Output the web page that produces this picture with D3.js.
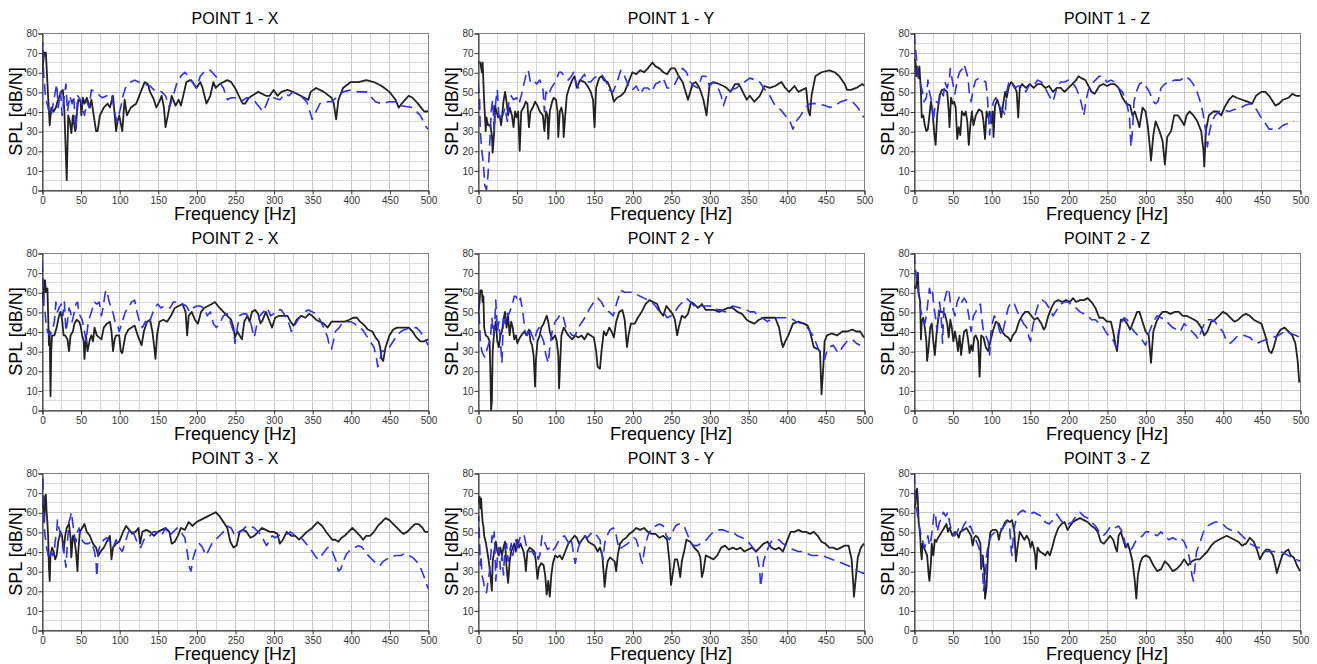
<!DOCTYPE html>
<html><head><meta charset="utf-8">
<script src="https://cdn.jsdelivr.net/npm/d3@7"></script>
<style>
html,body{margin:0;padding:0;background:#fff;}
svg{display:block;font-family:"Liberation Sans",Arial,sans-serif;}
</style></head>
<body><svg id="c" width="1317" height="664"></svg>
<script>
// ---------- DATA ----------
const panelTitles = ["POINT 1 - X","POINT 1 - Y","POINT 1 - Z","POINT 2 - X","POINT 2 - Y","POINT 2 - Z","POINT 3 - X","POINT 3 - Y","POINT 3 - Z"];
const xTicks = [0,50,100,150,200,250,300,350,400,450,500];
const yTicks = [0,10,20,30,40,50,60,70,80];
const xLabel = "Frequency [Hz]";
const yLabel = "SPL [dB/N]";

// solid (black) series, [frequency Hz, SPL dB/N]
const p1x_solid = [[0,60],[3,70],[5,70],[8,47],[10,33],[12,42],[15,40],[18,42],[20,45],[25,50],[27,51],[29,40],[32,5],[34,38],[36,35],[38,29],[40,38],[43,30],[47,46],[50,45],[51,38],[53,47],[55,44],[58,47],[62,42],[64,46],[67,38],[70,30],[72,30],[75,38],[80,42],[85,44],[88,42],[92,48],[96,30],[98,35],[100,38],[104,30],[107,46],[110,38],[115,42],[122,44],[128,50],[133,55],[137,54],[140,50],[145,46],[148,42],[152,45],[155,48],[158,42],[160,32],[163,38],[168,48],[173,43],[177,46],[180,43],[187,55],[192,56],[195,55],[200,52],[205,55],[208,52],[213,44],[218,48],[222,55],[225,52],[230,54],[240,56],[245,55],[250,52],[255,48],[260,44],[263,44],[268,47],[272,48],[280,50],[290,48],[295,48],[300,51],[305,48],[310,50],[318,51],[325,50],[335,48],[345,46],[348,50],[355,52],[365,50],[375,47],[378,44],[381,36],[384,46],[390,52],[400,55],[410,55],[420,56],[430,55],[440,53],[450,50],[458,46],[462,42],[468,45],[475,48],[480,47],[487,44],[495,40],[500,40]];
const p1x_dash = [[0,70],[1,75],[2,60],[4,50],[6,45],[9,40],[12,38],[15,45],[19,54],[21,42],[24,50],[26,38],[28,45],[31,54],[33,40],[36,48],[39,44],[41,48],[44,30],[46,48],[50,46],[55,38],[58,45],[61,42],[64,51],[70,50],[75,48],[78,47],[84,48],[90,49],[95,38],[97,35],[102,42],[105,48],[108,52],[115,55],[120,56],[125,55],[132,54],[140,53],[145,51],[150,51],[155,50],[160,48],[165,42],[170,48],[175,55],[180,58],[185,60],[190,58],[195,55],[200,52],[205,58],[212,61],[218,61],[225,58],[230,55],[235,52],[240,46],[245,47],[252,47],[258,45],[265,47],[272,47],[278,44],[282,42],[286,40],[290,43],[295,48],[300,47],[308,46],[315,49],[320,48],[325,50],[335,48],[343,45],[350,36],[355,40],[360,44],[365,45],[375,45],[390,50],[400,51],[410,50],[420,50],[425,48],[432,45],[440,44],[450,45],[458,45],[465,43],[480,42],[490,38],[498,32],[500,31]];

const p1y_solid = [[0,65],[3,65],[5,60],[6,65],[8,45],[10,30],[11,37],[13,33],[16,33],[18,28],[19,19],[21,30],[22,43],[24,40],[26,37],[28,38],[30,33],[33,45],[35,50],[37,45],[39,38],[41,42],[44,38],[46,32],[48,40],[50,37],[52,40],[54,20],[56,40],[59,42],[62,45],[64,44],[66,32],[68,40],[71,42],[74,45],[77,43],[80,40],[84,38],[86,30],[88,40],[90,38],[91,26],[93,40],[96,45],[98,47],[101,46],[103,40],[104,27],[106,40],[108,42],[110,38],[111,27],[113,38],[115,48],[118,52],[122,56],[125,58],[128,52],[132,56],[138,55],[142,53],[146,50],[149,46],[151,32],[153,52],[157,57],[160,58],[163,56],[168,55],[173,50],[176,45],[180,47],[185,48],[190,50],[195,55],[200,60],[205,59],[210,61],[215,60],[220,62],[226,65],[230,63],[235,62],[240,60],[245,59],[250,62],[255,62],[260,58],[265,55],[272,46],[275,50],[278,54],[282,55],[287,52],[292,46],[296,38],[300,54],[305,55],[312,54],[318,53],[322,52],[327,50],[333,54],[338,54],[343,50],[348,46],[352,48],[358,45],[365,48],[371,53],[378,52],[385,53],[393,55],[398,52],[403,50],[410,53],[415,50],[420,51],[425,52],[428,40],[430,38],[432,48],[437,58],[445,60],[455,61],[462,60],[468,58],[475,54],[478,51],[483,51],[490,52],[498,54],[500,53]];
const p1y_dash = [[0,55],[2,47],[3,30],[5,20],[7,13],[9,2],[11,0],[13,8],[14,15],[16,30],[17,40],[19,46],[21,30],[23,45],[25,51],[27,38],[29,35],[32,38],[35,42],[38,35],[40,45],[43,48],[46,46],[50,47],[53,44],[56,48],[60,55],[63,60],[65,61],[68,55],[72,56],[76,54],[80,56],[84,52],[86,40],[88,50],[91,48],[95,52],[100,55],[105,60],[108,60],[112,58],[117,56],[121,58],[124,60],[127,55],[130,52],[134,57],[138,59],[142,55],[146,55],[150,57],[155,58],[160,59],[165,56],[170,51],[175,50],[180,55],[185,61],[188,60],[192,56],[196,52],[200,51],[205,53],[210,49],[215,52],[220,52],[225,50],[230,54],[235,55],[240,57],[245,52],[250,52],[255,54],[260,58],[265,62],[270,60],[275,55],[280,53],[285,52],[290,58],[295,58],[300,53],[305,55],[310,53],[315,48],[318,43],[322,48],[328,51],[335,52],[340,54],[345,55],[352,57],[360,56],[365,55],[370,52],[378,48],[385,43],[392,41],[398,38],[404,35],[408,31],[412,35],[418,38],[424,42],[430,44],[440,44],[450,43],[456,42],[462,43],[470,45],[478,46],[485,45],[492,42],[498,38],[500,37]];

const p1z_solid = [[0,67],[2,65],[3,58],[4,63],[6,57],[7,63],[9,50],[10,37],[12,38],[14,33],[16,30],[18,31],[20,38],[22,45],[24,40],[26,30],[28,23],[30,38],[33,48],[36,51],[40,51],[43,50],[45,40],[46,32],[48,47],[50,44],[52,45],[54,42],[56,26],[58,32],[60,28],[62,40],[65,38],[67,40],[69,35],[71,23],[73,33],[75,40],[77,33],[80,38],[84,41],[88,40],[90,35],[92,26],[94,40],[96,37],[98,40],[100,34],[102,40],[103,27],[105,43],[108,46],[111,42],[113,37],[116,45],[118,50],[120,47],[123,53],[126,55],[130,53],[133,50],[135,37],[137,52],[140,54],[145,52],[150,54],[155,52],[160,54],[165,54],[170,52],[175,53],[180,50],[185,52],[190,52],[195,50],[200,52],[205,54],[210,56],[213,58],[217,57],[222,56],[226,53],[230,50],[234,49],[240,53],[245,54],[250,53],[255,54],[260,54],[265,52],[270,47],[275,44],[280,43],[283,38],[286,40],[290,35],[292,32],[296,42],[300,40],[303,32],[306,20],[307,15],[310,28],[313,35],[318,30],[322,25],[325,13],[328,27],[333,30],[337,38],[342,38],[347,35],[350,33],[353,38],[357,40],[362,38],[367,35],[372,30],[375,20],[376,12],[378,30],[382,38],[388,40],[393,40],[398,38],[402,42],[408,46],[413,48],[418,47],[425,46],[432,45],[438,44],[443,48],[450,50],[455,50],[460,48],[465,45],[468,43],[473,44],[478,46],[485,47],[490,49],[495,48],[500,48]];
const p1z_dash = [[0,80],[1,75],[3,68],[5,58],[8,55],[11,50],[13,45],[16,47],[18,56],[20,50],[23,45],[25,35],[27,42],[29,45],[32,44],[35,50],[38,48],[40,55],[43,52],[46,57],[47,62],[50,55],[53,49],[56,56],[59,60],[63,62],[65,64],[68,60],[70,57],[72,48],[74,45],[77,52],[80,56],[84,57],[88,56],[93,55],[95,48],[97,35],[98,28],[100,40],[103,45],[106,47],[108,45],[112,42],[116,40],[118,38],[120,50],[123,55],[126,55],[130,52],[135,53],[140,53],[145,50],[150,54],[155,53],[160,56],[165,55],[170,52],[175,48],[180,45],[185,52],[190,55],[195,55],[200,56],[205,55],[210,52],[215,47],[218,42],[220,38],[223,46],[226,51],[230,54],[235,56],[240,58],[245,58],[250,55],[255,56],[260,55],[265,52],[270,50],[275,45],[279,38],[281,22],[283,30],[285,45],[288,50],[292,54],[296,55],[300,53],[305,50],[310,45],[313,44],[316,45],[320,52],[325,54],[330,55],[338,56],[345,56],[352,58],[358,56],[365,52],[370,46],[374,40],[378,30],[380,22],[382,28],[385,34],[390,38],[395,40],[400,41],[408,40],[415,41],[420,41],[428,43],[435,44],[442,42],[448,38],[455,34],[460,31],[465,31],[472,31],[478,33],[485,34],[492,35]];

const p2x_solid = [[0,60],[2,55],[3,66],[4,66],[5,60],[7,62],[8,48],[9,33],[10,40],[11,7],[12,30],[13,38],[16,38],[19,42],[22,48],[24,50],[26,46],[28,38],[30,38],[33,36],[35,30],[37,38],[40,40],[42,44],[45,46],[48,45],[50,43],[52,38],[54,35],[55,26],[57,38],[59,30],[62,36],[64,38],[66,35],[68,42],[71,38],[74,37],[77,36],[80,42],[84,44],[88,45],[90,40],[92,30],[94,36],[96,38],[100,38],[102,30],[104,29],[108,38],[112,41],[116,42],[120,43],[124,38],[127,35],[129,33],[132,40],[136,45],[140,46],[143,40],[146,30],[147,26],[149,38],[152,45],[157,46],[162,45],[167,48],[172,52],[177,53],[182,54],[186,50],[188,38],[190,48],[194,50],[198,46],[202,44],[206,50],[210,52],[215,53],[220,54],[224,55],[230,52],[235,50],[240,48],[245,46],[248,42],[250,37],[253,40],[256,38],[259,36],[262,45],[266,48],[269,45],[272,50],[276,51],[280,49],[283,44],[286,46],[290,50],[294,46],[298,42],[302,47],[307,48],[312,48],[318,48],[322,45],[326,43],[330,46],[336,48],[341,47],[346,49],[350,48],[355,46],[360,45],[365,44],[370,42],[375,45],[385,45],[392,45],[398,46],[403,47],[408,47],[412,45],[418,43],[422,41],[428,40],[432,37],[436,35],[438,32],[440,26],[442,25],[445,32],[450,38],[455,41],[460,42],[468,42],[475,42],[480,40],[485,37],[490,35],[495,35],[500,36]];
const p2x_dash = [[0,76],[1,70],[2,55],[4,50],[5,45],[7,40],[10,38],[13,40],[16,45],[18,55],[20,50],[22,52],[25,54],[27,48],[29,55],[31,40],[33,45],[35,52],[37,50],[39,45],[42,50],[44,54],[46,55],[48,49],[52,46],[55,40],[57,35],[60,45],[64,50],[68,55],[71,54],[74,55],[77,48],[79,52],[82,60],[84,61],[87,55],[90,52],[93,48],[95,44],[98,43],[100,40],[104,45],[108,50],[112,52],[116,55],[120,56],[123,50],[127,44],[130,42],[134,45],[138,43],[142,48],[146,52],[150,54],[154,52],[158,53],[162,52],[166,52],[170,55],[174,55],[178,55],[182,54],[187,53],[191,50],[196,52],[200,53],[205,53],[210,52],[214,48],[218,50],[222,44],[226,42],[230,44],[235,48],[240,49],[244,45],[248,40],[250,34],[253,42],[256,48],[260,49],[265,49],[270,45],[273,40],[275,37],[278,43],[282,48],[287,50],[292,52],[296,48],[300,49],[305,51],[310,51],[315,48],[320,44],[323,40],[326,42],[330,45],[335,48],[340,50],[345,51],[350,50],[355,49],[360,46],[365,42],[370,37],[372,33],[375,31],[378,36],[380,40],[385,42],[390,45],[395,45],[400,45],[405,44],[410,42],[415,41],[420,38],[425,35],[430,32],[433,27],[435,22],[438,26],[440,30],[445,30],[450,32],[455,35],[460,38],[465,40],[470,41],[478,42],[485,42],[490,40],[495,37],[500,33]];

const p2y_solid = [[0,48],[2,55],[3,61],[5,61],[6,55],[7,58],[8,42],[10,38],[13,37],[15,35],[16,20],[17,0],[18,5],[19,30],[21,40],[23,45],[25,35],[27,32],[29,38],[31,40],[33,46],[35,50],[37,42],[39,48],[41,38],[43,45],[45,42],[47,36],[49,38],[51,34],[53,36],[56,38],[60,40],[63,38],[66,41],[68,35],[70,33],[72,28],[73,20],[74,12],[75,25],[77,35],[80,38],[82,42],[85,44],[87,46],[89,48],[91,45],[93,40],[96,36],[98,37],[100,38],[102,35],[104,28],[105,11],[106,20],[108,38],[111,42],[114,40],[117,38],[122,36],[126,38],[130,37],[134,38],[138,36],[142,39],[146,38],[150,37],[153,30],[155,22],[158,21],[160,30],[163,40],[166,38],[170,42],[173,40],[176,37],[179,45],[183,50],[187,51],[190,46],[193,32],[195,38],[198,44],[203,44],[207,47],[212,50],[217,54],[222,56],[227,55],[232,54],[236,50],[240,48],[244,53],[248,51],[252,49],[255,46],[258,38],[260,42],[264,48],[268,47],[272,49],[276,55],[280,54],[285,52],[290,54],[295,51],[300,51],[306,51],[312,50],[318,51],[324,52],[330,52],[336,50],[342,49],[348,46],[352,45],[358,44],[364,46],[370,47],[378,47],[385,47],[390,42],[393,35],[395,32],[398,35],[402,38],[408,44],[415,45],[422,44],[427,43],[430,40],[435,32],[440,31],[443,30],[445,8],[447,20],[449,35],[452,38],[458,39],[465,38],[472,40],[478,40],[485,41],[490,40],[495,40],[500,37]];
const p2y_dash = [[0,58],[1,50],[2,44],[3,35],[5,30],[7,28],[9,27],[11,30],[14,34],[16,36],[18,47],[20,38],[22,46],[23,56],[25,40],[27,45],[29,35],[31,24],[33,48],[35,44],[37,50],[39,48],[41,50],[44,53],[47,58],[49,58],[52,55],[55,57],[58,50],[61,40],[64,38],[66,42],[68,40],[70,38],[73,35],[76,40],[79,42],[82,38],[85,35],[88,28],[91,24],[93,32],[96,40],[100,45],[104,47],[107,49],[110,48],[114,42],[118,40],[122,38],[126,38],[130,42],[135,45],[140,48],[145,52],[150,55],[155,57],[160,55],[165,51],[170,50],[175,48],[180,55],[185,61],[190,60],[195,60],[200,60],[205,59],[210,58],[215,57],[220,56],[225,55],[230,53],[235,50],[240,50],[245,47],[250,48],[255,50],[260,53],[265,55],[270,57],[275,55],[280,53],[285,53],[290,53],[295,53],[300,53],[305,53],[310,51],[315,51],[320,50],[325,52],[330,53],[340,52],[348,51],[352,50],[358,50],[363,48],[368,47],[375,45],[382,47],[388,47],[395,47],[400,47],[405,47],[412,45],[420,44],[425,43],[430,40],[434,38],[438,34],[442,30],[446,28],[449,26],[452,30],[455,32],[460,33],[465,30],[468,29],[472,32],[478,35],[485,36],[490,34],[495,33]];

const p2z_solid = [[0,63],[2,62],[3,63],[5,70],[6,60],[8,55],[9,36],[10,45],[12,47],[14,42],[16,35],[17,25],[19,32],[21,42],[23,44],[25,35],[27,28],[29,38],[31,45],[33,50],[36,50],[40,49],[43,44],[45,37],[47,46],[49,42],[51,35],[53,40],[55,36],[57,30],[59,38],[61,28],[63,35],[65,40],[68,41],[70,36],[72,29],[74,33],[76,30],[78,37],[80,38],[83,35],[85,17],[87,38],[90,37],[93,32],[96,30],[99,35],[102,40],[106,45],[110,44],[114,40],[118,38],[122,37],[125,35],[128,38],[132,40],[136,45],[140,48],[144,50],[148,50],[152,48],[156,46],[160,47],[165,44],[168,41],[170,42],[174,48],[178,52],[182,55],[187,56],[192,55],[197,56],[202,55],[206,57],[210,55],[215,56],[220,56],[225,57],[230,55],[235,52],[240,47],[245,47],[250,45],[255,45],[258,40],[261,33],[263,30],[265,38],[268,46],[272,46],[276,44],[280,41],[285,46],[289,50],[292,50],[296,45],[300,40],[304,38],[307,24],[310,40],[314,45],[318,48],[322,50],[327,50],[332,49],[338,50],[343,50],[348,48],[353,48],[358,47],[363,46],[367,45],[372,42],[376,38],[380,40],[385,45],[390,46],[395,48],[400,50],[405,49],[410,47],[415,45],[420,46],[425,48],[430,49],[435,48],[440,46],[445,45],[450,44],[455,38],[460,30],[463,29],[466,32],[470,38],[475,41],[480,42],[485,40],[490,38],[494,34],[497,25],[499,14]];
const p2z_dash = [[0,80],[1,75],[3,68],[5,62],[7,55],[9,50],[12,47],[14,44],[16,48],[18,55],[20,62],[22,58],[24,60],[26,52],[28,47],[30,40],[33,55],[35,49],[37,34],[39,55],[42,60],[45,62],[47,55],[50,52],[53,48],[56,55],[59,58],[62,55],[65,57],[68,55],[71,48],[74,40],[77,48],[80,50],[83,53],[86,54],[88,46],[90,40],[93,38],[96,35],[98,28],[100,42],[104,48],[108,45],[111,40],[114,38],[118,45],[122,52],[126,55],[130,54],[134,50],[138,47],[142,44],[146,42],[149,37],[151,35],[154,43],[158,50],[162,55],[166,56],[170,55],[175,52],[180,48],[185,51],[190,54],[195,55],[200,55],[205,53],[210,52],[215,50],[220,49],[225,48],[230,46],[235,46],[240,44],[244,43],[248,40],[252,38],[256,37],[260,34],[262,32],[265,40],[268,44],[272,47],[276,46],[280,43],[285,40],[290,38],[295,36],[300,33],[305,40],[310,45],[315,48],[320,47],[325,46],[330,44],[335,42],[340,41],[345,40],[350,44],[355,42],[360,40],[365,38],[368,36],[372,40],[376,44],[380,46],[385,46],[390,45],[395,42],[400,40],[405,35],[410,34],[415,36],[420,38],[428,38],[435,37],[440,35],[445,34],[450,35],[458,36],[465,37],[472,38],[480,40],[488,39],[495,38],[500,37]];

const p3x_solid = [[0,62],[2,65],[3,55],[4,68],[5,69],[6,60],[7,55],[8,47],[9,32],[10,25],[11,38],[13,42],[15,40],[17,36],[19,38],[21,45],[24,50],[26,48],[28,40],[30,48],[32,52],[35,54],[37,47],[38,37],[40,48],[42,46],[44,40],[46,30],[47,40],[49,50],[52,52],[55,54],[58,50],[62,48],[66,44],[70,42],[73,38],[76,40],[80,42],[84,45],[88,48],[90,36],[92,42],[96,44],[100,45],[105,50],[109,53],[113,51],[117,49],[121,50],[125,52],[127,44],[130,50],[135,51],[140,50],[145,48],[150,50],[155,51],[160,52],[165,50],[168,44],[172,45],[176,48],[180,52],[185,51],[190,55],[195,53],[200,55],[205,56],[210,57],[215,58],[220,59],[225,60],[230,58],[235,55],[240,52],[244,45],[248,42],[252,43],[256,50],[260,51],[265,50],[270,47],[275,48],[280,50],[285,52],[290,51],[295,50],[300,50],[305,49],[308,44],[312,46],[317,50],[323,48],[328,48],[333,46],[338,48],[343,50],[350,52],[357,55],[363,53],[368,50],[372,48],[376,46],[380,46],[384,45],[388,47],[392,48],[397,50],[402,52],[407,50],[412,48],[416,46],[420,48],[425,48],[430,50],[435,53],[440,55],[445,57],[450,56],[455,54],[460,52],[465,50],[468,49],[473,50],[478,52],[483,54],[488,54],[493,52],[496,50],[500,50]];
const p3x_dash = [[0,70],[1,78],[2,65],[3,52],[4,48],[6,42],[8,38],[10,36],[12,40],[14,38],[16,40],[17,45],[19,50],[20,56],[22,52],[24,49],[27,44],[29,38],[31,32],[33,45],[35,55],[37,58],[38,60],[40,54],[42,48],[44,45],[46,50],[48,52],[50,48],[53,45],[56,44],[60,44],[64,45],[68,40],[70,35],[71,27],[73,40],[76,44],[80,46],[84,47],[88,45],[92,42],[96,46],[100,42],[104,40],[108,45],[112,50],[116,52],[120,48],[124,44],[128,42],[132,46],[136,48],[140,48],[144,50],[148,50],[152,48],[156,49],[160,52],[165,48],[170,50],[175,52],[180,50],[185,47],[188,40],[191,32],[193,30],[196,37],[200,42],[204,44],[208,42],[212,38],[215,40],[220,44],[225,46],[230,48],[235,50],[240,53],[245,52],[250,48],[255,50],[260,51],[265,53],[270,53],[275,52],[280,50],[285,48],[288,45],[291,43],[294,45],[298,48],[302,47],[306,48],[312,49],[318,49],[322,50],[328,48],[333,48],[338,46],[344,43],[350,40],[355,37],[358,36],[362,38],[366,40],[370,42],[374,42],[378,38],[381,35],[384,30],[387,31],[390,35],[395,39],[400,41],[405,42],[410,43],[415,42],[420,39],[425,37],[430,35],[434,33],[438,33],[442,35],[446,36],[452,37],[458,38],[465,38],[470,39],[475,38],[480,37],[485,35],[490,32],[494,28],[497,25],[500,21]];

const p3y_solid = [[0,65],[2,68],[3,62],[4,67],[5,60],[6,55],[7,53],[8,48],[10,45],[12,40],[14,35],[16,28],[18,20],[19,35],[21,40],[23,45],[25,40],[27,38],[29,42],[31,38],[33,42],[35,45],[37,32],[39,24],[41,35],[43,40],[45,42],[47,44],[49,40],[51,46],[53,42],[55,44],[57,42],[59,40],[61,35],[62,30],[64,40],[67,42],[70,41],[73,40],[75,35],[77,26],[79,32],[82,34],[85,33],[87,28],[89,18],[91,25],[93,17],[95,28],[97,34],[100,38],[103,37],[106,38],[109,36],[113,40],[117,44],[121,46],[125,48],[128,47],[131,44],[135,46],[139,48],[143,45],[147,44],[151,43],[155,40],[158,42],[161,38],[163,28],[164,22],[166,30],[168,35],[171,37],[174,36],[177,35],[179,30],[181,38],[184,44],[188,46],[192,47],[196,49],[200,50],[205,52],[210,51],[215,52],[220,50],[225,49],[230,49],[235,47],[240,48],[245,46],[248,35],[250,23],[252,28],[255,36],[258,36],[260,32],[262,27],[264,35],[267,40],[270,46],[275,45],[280,42],[285,40],[288,37],[290,27],[292,30],[295,38],[300,37],[305,36],[310,38],[315,42],[320,43],[325,41],[330,42],[335,41],[340,42],[345,40],[350,41],[355,42],[360,40],[365,42],[370,44],[375,45],[380,42],[385,41],[390,42],[395,40],[400,45],[405,50],[410,50],[415,51],[420,50],[425,50],[430,49],[435,50],[440,48],[445,45],[450,44],[455,42],[460,42],[465,41],[470,42],[475,43],[480,43],[484,36],[486,24],[487,17],[489,25],[492,37],[496,42],[500,44]];
const p3y_dash = [[0,55],[1,58],[2,45],[3,33],[4,38],[5,28],[7,25],[9,20],[11,19],[13,25],[15,30],[17,40],[18,48],[20,45],[21,50],[22,40],[23,25],[25,36],[27,42],[29,31],[31,38],[33,28],[35,42],[37,44],[39,35],[41,40],[43,44],[45,38],[47,42],[49,46],[51,40],[53,45],[55,48],[57,49],[60,48],[63,42],[66,40],[70,40],[73,38],[76,40],[78,36],[80,38],[83,48],[86,45],[90,41],[93,42],[96,40],[100,42],[104,45],[108,47],[112,48],[115,46],[118,44],[121,46],[124,38],[126,34],[128,38],[130,42],[134,46],[138,48],[142,47],[146,49],[150,50],[154,48],[158,46],[160,40],[162,36],[164,44],[167,48],[171,51],[175,52],[178,51],[180,46],[183,41],[186,42],[190,43],[194,44],[198,46],[202,47],[205,46],[208,42],[211,36],[213,34],[216,42],[220,48],[225,52],[230,53],[235,54],[240,53],[244,48],[248,46],[252,50],[256,53],[260,54],[264,54],[268,52],[272,48],[276,44],[280,43],[284,43],[288,44],[292,45],[296,46],[300,48],[305,50],[312,51],[318,51],[324,50],[330,50],[336,48],[342,47],[348,46],[352,44],[356,42],[360,40],[362,37],[365,30],[366,22],[368,28],[370,35],[374,40],[378,44],[382,46],[386,46],[390,46],[395,44],[400,43],[408,41],[415,40],[420,40],[426,39],[432,38],[438,38],[445,38],[452,37],[458,36],[465,35],[472,34],[478,33],[485,32],[492,30],[498,29],[500,29]];

const p3z_solid = [[0,62],[2,64],[3,70],[4,72],[5,66],[6,55],[7,52],[8,48],[9,40],[10,36],[11,44],[13,42],[15,40],[17,38],[19,28],[20,25],[22,35],[23,44],[25,38],[27,46],[29,45],[31,47],[33,48],[36,50],[39,52],[42,54],[44,50],[46,52],[48,50],[50,48],[53,50],[56,49],[58,47],[60,50],[64,51],[68,52],[71,50],[74,48],[76,43],[78,47],[80,48],[83,47],[86,44],[87,31],[89,38],[91,30],[92,16],[94,22],[96,40],[99,50],[102,51],[106,51],[108,50],[110,46],[112,50],[115,52],[118,55],[121,56],[124,55],[127,56],[130,50],[132,35],[134,42],[137,50],[140,48],[143,46],[146,48],[149,46],[151,42],[153,45],[155,42],[157,38],[158,31],[160,42],[163,40],[167,39],[170,38],[173,40],[176,38],[179,42],[183,48],[187,52],[191,54],[195,55],[199,51],[202,53],[206,55],[210,56],[215,57],[220,56],[225,55],[230,53],[234,52],[238,50],[242,45],[246,44],[250,46],[254,48],[258,46],[261,42],[263,40],[265,48],[268,50],[271,46],[274,42],[277,44],[280,40],[283,35],[286,25],[288,16],[290,28],[293,34],[296,37],[300,38],[305,37],[310,33],[315,30],[320,31],[325,35],[330,33],[335,30],[340,31],[345,33],[350,36],[355,33],[360,35],[365,36],[370,36],[375,38],[380,40],[385,43],[390,45],[395,46],[400,47],[405,48],[410,47],[415,46],[420,45],[425,43],[430,44],[435,47],[440,45],[445,40],[448,36],[452,39],[456,41],[460,41],[465,38],[468,33],[470,29],[473,33],[477,38],[481,40],[485,41],[488,38],[492,37],[496,33],[500,30]];
const p3z_dash = [[0,80],[1,74],[2,66],[4,60],[6,55],[8,50],[10,48],[12,44],[14,42],[16,45],[18,48],[20,43],[22,46],[24,52],[26,60],[28,58],[30,50],[33,55],[36,57],[38,60],[41,58],[44,60],[46,55],[49,50],[52,48],[55,49],[58,52],[61,50],[64,53],[67,55],[70,52],[73,53],[76,50],[80,46],[84,42],[87,38],[89,30],[90,20],[92,25],[94,38],[97,45],[100,48],[105,50],[110,51],[115,52],[120,55],[124,52],[126,40],[127,38],[129,50],[133,58],[137,60],[141,61],[145,60],[150,59],[155,60],[160,59],[165,58],[170,55],[175,54],[180,56],[185,59],[190,56],[195,54],[200,54],[205,55],[210,58],[215,60],[220,58],[225,57],[230,55],[235,53],[240,50],[245,48],[250,50],[255,53],[260,52],[265,53],[270,50],[273,45],[276,42],[279,40],[283,42],[288,46],[292,47],[296,48],[300,50],[305,50],[310,49],[315,48],[320,50],[325,48],[330,46],[335,47],[340,46],[345,47],[350,45],[355,40],[358,34],[360,28],[362,25],[364,32],[366,40],[370,44],[375,50],[380,53],[385,54],[390,55],[395,55],[400,54],[405,52],[410,51],[415,50],[420,50],[425,48],[430,46],[435,44],[440,43],[445,42],[450,42],[455,40],[460,40],[465,40],[470,40],[475,40],[480,39],[485,38],[490,37],[495,36],[500,35]];

const solidSeries = [p1x_solid,p1y_solid,p1z_solid,p2x_solid,p2y_solid,p2z_solid,p3x_solid,p3y_solid,p3z_solid];
const dashSeries  = [p1x_dash,p1y_dash,p1z_dash,p2x_dash,p2y_dash,p2z_dash,p3x_dash,p3y_dash,p3z_dash];

// ---------- LAYOUT ----------
const colLeft = [42, 478, 914];
const rowTop = [33, 253, 473];
const PW = 386, PH = 157;

const svg = d3.select("#c");
const defs = svg.append("defs");

panelTitles.forEach((title, i) => {
  const col = i % 3, row = Math.floor(i / 3);
  const L = colLeft[col], T = rowTop[row];
  const x = d3.scaleLinear().domain([0, 500]).range([0, PW]);
  const y = d3.scaleLinear().domain([0, 80]).range([PH, 0]);
  const g = svg.append("g").attr("transform", `translate(${L},${T})`);

  // grid
  const gx = d3.range(0, 501, 25), gy = d3.range(0, 81, 5);
  g.append("g").selectAll("line").data(gx).join("line")
    .attr("x1", d => Math.round(x(d)) + 0.5).attr("x2", d => Math.round(x(d)) + 0.5)
    .attr("y1", 0).attr("y2", PH)
    .attr("stroke", d => d % 50 === 0 ? "#c8c8c8" : "#d8d8d8").attr("stroke-width", 1);
  g.append("g").selectAll("line").data(gy).join("line")
    .attr("y1", d => Math.round(y(d)) + 0.5).attr("y2", d => Math.round(y(d)) + 0.5)
    .attr("x1", 0).attr("x2", PW)
    .attr("stroke", d => d % 10 === 0 ? "#c8c8c8" : "#dcdcdc").attr("stroke-width", 1);

  // frame
  g.append("rect").attr("x", 0.5).attr("y", 0.5).attr("width", PW).attr("height", PH)
    .attr("fill", "none").attr("stroke", "#808080").attr("stroke-width", 1);

  // clip
  defs.append("clipPath").attr("id", "clip" + i)
    .append("rect").attr("x", 0).attr("y", 0).attr("width", PW + 1).attr("height", PH + 1);

  const line = d3.line().x(d => x(d[0])).y(d => y(d[1]));
  const lines = g.append("g").attr("clip-path", `url(#clip${i})`);
  lines.append("path").datum(solidSeries[i]).attr("d", line)
    .attr("fill", "none").attr("stroke", "#222222").attr("stroke-width", 1.8)
    .attr("stroke-linejoin", "round");
  lines.append("path").datum(dashSeries[i]).attr("d", line)
    .attr("fill", "none").attr("stroke", "#2f2fff").attr("stroke-width", 1.6)
    .attr("stroke-dasharray", "11,6").attr("stroke-linejoin", "round");

  // axes
  const ax = g.append("g").attr("transform", `translate(0.5,${PH + 0.5})`)
    .call(d3.axisBottom(x).tickValues(xTicks).tickSize(4).tickPadding(2));
  const ay = g.append("g").attr("transform", `translate(0.5,0.5)`)
    .call(d3.axisLeft(y).tickValues(yTicks).tickSize(4).tickPadding(1));
  [ax, ay].forEach(a => {
    a.select(".domain").attr("stroke", "#333");
    a.selectAll(".tick line").attr("stroke", "#333");
    a.selectAll(".tick text").attr("fill", "#333").style("font-size", "10px")
      .style("font-family", '"Liberation Sans", Arial, sans-serif');
  });

  // titles
  g.append("text").attr("x", PW / 2).attr("y", -9).attr("text-anchor", "middle")
    .style("font-size", "16px").attr("fill", "#000").text(title);
  g.append("text").attr("x", PW / 2).attr("y", PH + 30).attr("text-anchor", "middle")
    .style("font-size", "18px").attr("fill", "#000").text(xLabel);
  g.append("text").attr("transform", `translate(-20,${PH / 2}) rotate(-90)`)
    .attr("text-anchor", "middle").style("font-size", "18px").attr("fill", "#000").text(yLabel);
});
</script></body></html>
